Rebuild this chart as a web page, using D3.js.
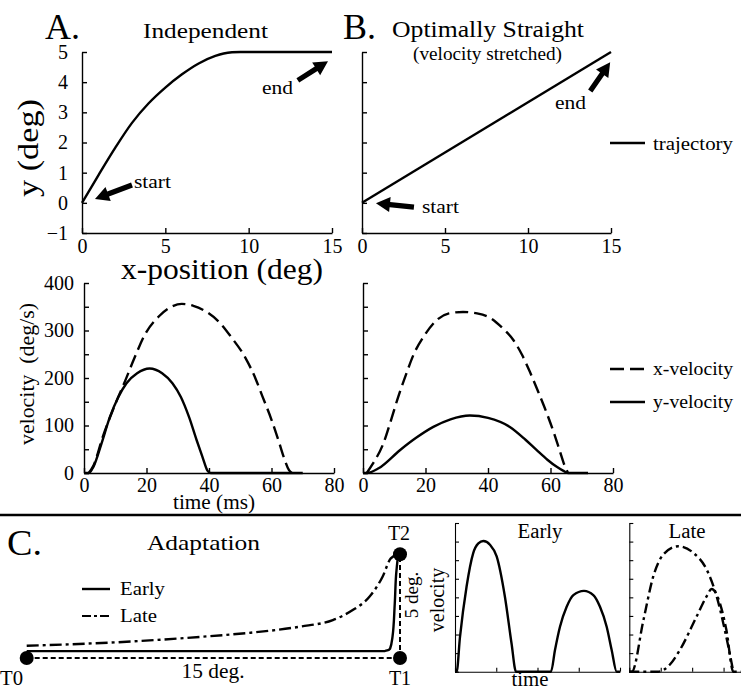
<!DOCTYPE html>
<html><head><meta charset="utf-8">
<script src="https://cdn.jsdelivr.net/npm/d3@7"></script>
<style>
html,body{margin:0;padding:0;background:#fff;}
svg{display:block;font-family:"Liberation Serif","Times New Roman",Times,serif;background:#fff;}
text{font-family:"Liberation Serif","Times New Roman",Times,serif;}
.axis path,.axis line{stroke:#000;stroke-width:1.4;}
.axis text{font-size:20px;fill:#000;font-family:"Liberation Serif","Times New Roman",Times,serif;}
.sub path,.sub line{stroke-width:1.1;}
</style></head><body>
<svg id="c" width="741" height="688"></svg>
<script>
// ---------- data ----------
const posXTicks = [0, 5, 10, 15];
const posYTicks = [-1, 0, 1, 2, 3, 4, 5];
const timeTicks = [0, 20, 40, 60, 80];
const velTicks = [0, 50, 100, 150, 200, 250, 300, 350, 400];

// A: independent trajectory (x-position, y)
const indepX = [0, 1, 2, 3, 4, 5, 6, 7, 8, 8.5, 9, 9.5, 10, 12, 15];
const indepY = [0, 0.93, 1.83, 2.65, 3.3, 3.82, 4.26, 4.62, 4.87, 4.95, 4.99, 5, 5, 5, 5];
// B: straight trajectory
const straightX = [0, 15];
const straightY = [0, 5];

// A velocities
const indepVxT = [1.5, 3, 6, 10, 13.3, 16, 19.7, 24, 28, 31.3, 35, 39, 43.2, 47, 51.7, 55, 57, 60, 62.4, 64, 65.6, 66.5];
const indepVxV = [0, 15, 76, 145, 196, 240, 294, 330, 350, 356, 352, 340, 318, 287, 242, 197, 163, 112, 65, 32, 6, 0];
const indepVyT = [0, 1.5, 3, 5.5, 8.3, 11, 13.6, 17, 21, 25, 28.3, 31, 33.6, 36, 37.9, 39.5, 40.5, 70];
const indepVyV = [0, 0, 13, 60, 118, 160, 189, 210, 220, 210, 189, 160, 118, 70, 34, 5, 0, 0];
// B velocities
const straightVxT = [1.2, 3, 6.5, 9, 11.3, 13.7, 16.1, 20, 23.6, 27.5, 32, 36.5, 40.6, 44.5, 48.1, 50.8, 53.4, 56, 58.8, 61, 63, 64.5, 65.6];
const straightVxV = [0, 18, 62, 112, 161, 206, 248, 293, 322, 336, 339, 336, 327, 306, 280, 250, 213, 172, 126, 86, 46, 16, 0];
const straightVyT = [0, 1.2, 5, 11.8, 17, 22.5, 28, 34.2, 40, 47, 52, 55.6, 59, 62, 64, 65.6, 72];
const straightVyV = [0, 0, 10, 48, 74, 97, 113, 121, 116, 97, 70, 48, 28, 13, 5, 0, 0];

// C: adaptation paths (deg)
const targetNames = ["T0", "T1", "T2"];
const targetX = [0, 15, 15];
const targetY = [0, 0, 5];
const earlyPathX = [0, 5, 10, 14.4, 14.6, 14.7, 14.79, 14.86, 14.93, 14.96];
const earlyPathY = [0.33, 0.33, 0.33, 0.34, 0.45, 1.03, 2.64, 4.24, 4.88, 5];
const latePathX = [0, 4.27, 7, 9, 10.97, 12.3, 13.1, 13.78, 14.3, 14.63, 14.96];
const latePathY = [0.59, 0.8, 1.02, 1.22, 1.51, 1.83, 2.31, 2.96, 3.92, 4.8, 5];

// C: velocity profiles (arbitrary units)
const earlyVT = [0, 0.04, 0.12, 0.28, 0.44, 0.566, 0.687, 0.848, 1.01, 1.21, 1.37, 1.479, 2.327, 2.424, 2.545, 2.707, 2.869, 3.127, 3.353, 3.515, 3.677, 3.798, 3.919, 4];
const earlyVV = [0, 0, 1.85, 4.57, 6.37, 6.9, 7.03, 6.83, 6.2, 4.03, 1.53, 0, 0, 1.17, 2.42, 3.49, 4.12, 4.35, 4.12, 3.49, 2.42, 1.17, 0, 0];
const late1T = [0, 0.08, 0.45, 0.76, 1.08, 1.56, 2.04, 2.46, 2.78, 3.04, 3.31];
const late1V = [0, 0, 2.78, 5.11, 6.3, 6.75, 6.39, 5.5, 4.05, 2.24, 0];
const late2T = [0, 0.92, 1.3, 1.61, 2.14, 2.46, 2.62, 2.88, 3.09, 3.31, 4];
const late2V = [0, 0, 0.4, 1.17, 2.96, 4.05, 4.45, 3.7, 2.24, 0, 0];
const subYTicks = [0, 1, 2, 3, 4, 5, 6, 7, 8];
const subXTicks = [0, 1, 2, 3, 4];

// arrows (data coords of panels A/B)
const arrowsA = [{tail: [3.0, 0.59], head: [0.78, 0.13]}, {tail: [12.95, 4.06], head: [14.76, 4.69]}];
const arrowsB = [{tail: [3.13, -0.14], head: [0.84, -0.01]}, {tail: [13.75, 3.71], head: [14.95, 4.66]}];

// ---------- drawing ----------
const svg = d3.select("#c");
svg.append("rect").attr("width", 741).attr("height", 688).attr("fill", "#fff");

function addText(str, x, y, size, opt = {}) {
  const t = svg.append("text").attr("x", x).attr("y", y).attr("font-size", size)
    .attr("fill", "#000").text(str);
  if (opt.anchor) t.attr("text-anchor", opt.anchor);
  if (opt.len) t.attr("textLength", opt.len).attr("lengthAdjust", "spacingAndGlyphs");
  if (opt.rot) t.attr("transform", `rotate(-90,${x},${y})`);
  if (opt.pre) t.style("white-space", "pre");
  return t;
}
function arrow(x1, y1, x2, y2) {
  const dx = x2 - x1, dy = y2 - y1, L = Math.hypot(dx, dy), ux = dx / L, uy = dy / L, px = -uy, py = ux;
  const hl = 14, hw = 7.5, sw = 2.6;
  const bx = x2 - ux * hl, by = y2 - uy * hl;
  const pts = [[x1 + px * sw, y1 + py * sw], [bx + px * sw, by + py * sw], [bx + px * hw, by + py * hw], [x2, y2],
    [bx - px * hw, by - py * hw], [bx - px * sw, by - py * sw], [x1 - px * sw, y1 - py * sw]];
  svg.append("path").attr("d", d3.line()(pts) + "Z").attr("fill", "#000");
}
function zip(a, b) { return a.map((v, i) => [v, b[i]]); }
function drawLine(xs, ys, sx, sy, dash, w, curve) {
  const line = d3.line().x(d => sx(d[0])).y(d => sy(d[1])).curve(curve || d3.curveMonotoneX);
  const p = svg.append("path").attr("d", line(zip(xs, ys))).attr("fill", "none")
    .attr("stroke", "#000").attr("stroke-width", w || 2.4).attr("stroke-linejoin", "round");
  if (dash) p.attr("stroke-dasharray", dash);
  return p;
}

// ----- Panel A / B trajectories -----
const yPos = d3.scaleLinear().domain([-1, 5]).range([233, 52]);
const xPosA = d3.scaleLinear().domain([0, 15]).range([82, 332]);
const xPosB = d3.scaleLinear().domain([0, 15]).range([362, 611]);

function posAxes(xs, labelsY) {
  svg.append("g").attr("class", "axis").attr("transform", `translate(${xs.range()[0]},0)`)
    .call(d3.axisLeft(yPos).tickValues(posYTicks).tickSizeInner(-5).tickSizeOuter(0).tickPadding(14)
      .tickFormat(labelsY ? d3.format("d") : () => ""));
  svg.append("g").attr("class", "axis").attr("transform", `translate(0,${yPos(-1)})`)
    .call(d3.axisBottom(xs).tickValues(posXTicks).tickSizeInner(-5).tickSizeOuter(0).tickPadding(6));
}
posAxes(xPosA, true);
posAxes(xPosB, false);
drawLine(indepX, indepY, xPosA, yPos, null, 2.4);
drawLine(straightX, straightY, xPosB, yPos, null, 2.4, d3.curveLinear);
arrowsA.forEach(a => arrow(xPosA(a.tail[0]), yPos(a.tail[1]), xPosA(a.head[0]), yPos(a.head[1])));
arrowsB.forEach(a => arrow(xPosB(a.tail[0]), yPos(a.tail[1]), xPosB(a.head[0]), yPos(a.head[1])));

addText("A.", 45, 39, 35, {len: 35});
addText("Independent", 143, 37.5, 22, {len: 125});
addText("B.", 343, 39, 35, {len: 33});
addText("Optimally Straight", 392, 37, 23, {len: 192});
addText("(velocity stretched)", 413, 60, 18, {len: 149});
addText("y (deg)", 38, 148, 29, {anchor: "middle", rot: true, len: 98});
addText("x-position (deg)", 222, 279, 30, {anchor: "middle", len: 202});
addText("start", 134, 188, 19, {len: 37});
addText("end", 262, 94, 19, {len: 31});
addText("start", 422, 213, 19, {len: 37});
addText("end", 555, 109, 19, {len: 31});
// trajectory legend
svg.append("line").attr("x1", 610).attr("x2", 645).attr("y1", 143).attr("y2", 143).attr("stroke", "#000").attr("stroke-width", 2.4);
addText("trajectory", 653, 150, 19, {len: 80});

// ----- velocity panels -----
const yVel = d3.scaleLinear().domain([0, 400]).range([473, 283]);
const tA = d3.scaleLinear().domain([0, 80]).range([84, 334]);
const tB = d3.scaleLinear().domain([0, 80]).range([363, 613]);
function velAxes(xs, labelsY) {
  svg.append("g").attr("class", "axis").attr("transform", `translate(${xs.range()[0]},0)`)
    .call(d3.axisLeft(yVel).tickValues(velTicks).tickSizeInner(-5).tickSizeOuter(0).tickPadding(10)
      .tickFormat(d => (labelsY && d % 100 === 0) ? d : ""));
  svg.append("g").attr("class", "axis").attr("transform", `translate(0,${yVel(0)})`)
    .call(d3.axisBottom(xs).tickValues(timeTicks).tickSizeInner(-5).tickSizeOuter(0).tickPadding(4.5));
}
velAxes(tA, true);
velAxes(tB, false);
drawLine(indepVyT, indepVyV, tA, yVel, null, 2.4);
drawLine(indepVxT, indepVxV, tA, yVel, "13,6", 2.4);
drawLine(straightVyT, straightVyV, tB, yVel, null, 2.4);
drawLine(straightVxT, straightVxV, tB, yVel, "13,6", 2.4);
addText("velocity  (deg/s)", 34, 374, 20, {anchor: "middle", rot: true, len: 142, pre: true});
addText("time (ms)", 214, 509, 20, {anchor: "middle", len: 82});
svg.append("line").attr("x1", 610).attr("x2", 645).attr("y1", 369).attr("y2", 369).attr("stroke", "#000").attr("stroke-width", 2.4).attr("stroke-dasharray", "14,6");
addText("x-velocity", 653, 375, 19, {len: 80});
svg.append("line").attr("x1", 610).attr("x2", 645).attr("y1", 402).attr("y2", 402).attr("stroke", "#000").attr("stroke-width", 2.4);
addText("y-velocity", 653, 408, 19, {len: 80});

// divider
svg.append("line").attr("x1", 0).attr("x2", 741).attr("y1", 515).attr("y2", 515).attr("stroke", "#000").attr("stroke-width", 2.5);

// ----- Panel C -----
addText("C.", 7, 555, 35, {len: 35});
addText("Adaptation", 147, 550, 22, {len: 113});
const cx = d3.scaleLinear().domain([0, 15]).range([26.7, 400]);
const cy = d3.scaleLinear().domain([0, 5]).range([658, 554.3]);
// dashed reference lines
drawLine([targetX[0], targetX[1]], [targetY[0], targetY[1]], cx, cy, "5,3", 2, d3.curveLinear);
drawLine([targetX[1], targetX[2]], [targetY[1], targetY[2]], cx, cy, "5,3", 2, d3.curveLinear);
drawLine(earlyPathX, earlyPathY, cx, cy, null, 2.4, d3.curveMonotoneY);
drawLine(latePathX, latePathY, cx, cy, "12,4,3,4", 2.4, d3.curveMonotoneX);
svg.selectAll("circle.t").data(targetNames).join("circle").attr("class", "t")
  .attr("cx", (d, i) => cx(targetX[i])).attr("cy", (d, i) => cy(targetY[i])).attr("r", 7).attr("fill", "#000");
addText("T0", 0, 685, 20, {len: 23});
addText("T1", 400, 685, 20, {anchor: "middle"});
addText("T2", 399, 540, 20, {anchor: "middle"});
addText("15 deg.", 213, 678, 20, {anchor: "middle", len: 63});
addText("5 deg.", 418, 595, 19, {anchor: "middle", rot: true});
addText("velocity", 444, 600, 20, {anchor: "middle", rot: true});
// legend C
svg.append("line").attr("x1", 82).attr("x2", 110).attr("y1", 589).attr("y2", 589).attr("stroke", "#000").attr("stroke-width", 2.4);
addText("Early", 120, 595, 19, {len: 45});
svg.append("line").attr("x1", 82).attr("x2", 110).attr("y1", 616).attr("y2", 616).attr("stroke", "#000").attr("stroke-width", 2.2).attr("stroke-dasharray", "9,3,3,3");
addText("Late", 120, 622, 19, {len: 37});

// sub velocity plots
const subY = d3.scaleLinear().domain([0, 8]).range([671.7, 523]);
const eX = d3.scaleLinear().domain([0, 4]).range([455, 620]);
const lX = d3.scaleLinear().domain([0, 4]).range([629.3, 755]);
function subAxes(xs) {
  svg.append("g").attr("class", "axis sub").attr("transform", `translate(${xs.range()[0]},0)`)
    .call(d3.axisLeft(subY).tickValues(subYTicks).tickSizeInner(-4).tickSizeOuter(0).tickFormat(() => ""));
  svg.append("g").attr("class", "axis sub").attr("transform", `translate(0,${subY(0)})`)
    .call(d3.axisBottom(xs).tickValues(subXTicks).tickSizeInner(-4).tickSizeOuter(0).tickFormat(() => ""));
}
subAxes(eX);
subAxes(lX);
drawLine(earlyVT, earlyVV, eX, subY, null, 2.4);
drawLine(late1T, late1V, lX, subY, "10,4,3,4", 2.4);
drawLine(late2T, late2V, lX, subY, "10,4,3,4", 2.4);
addText("Early", 540, 538, 20, {anchor: "middle", len: 45});
addText("Late", 687, 538, 20, {anchor: "middle", len: 37});
addText("time", 530, 686, 20, {anchor: "middle", len: 37});
</script>
</body></html>
